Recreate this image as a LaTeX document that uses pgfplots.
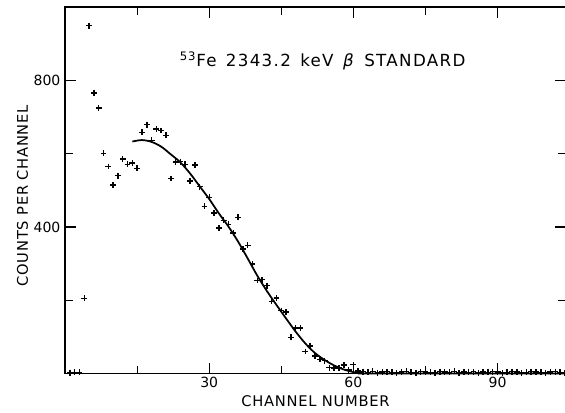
\documentclass[border=0pt]{standalone}
\usepackage{fontspec}
\setmainfont{DejaVu Sans}
\usepackage{pgfplots}
\pgfplotsset{compat=1.18}
\newfontfamily\lblfont[LetterSpace=5]{DejaVu Sans}
\newfontfamily\ttlfont[LetterSpace=8,WordSpace=1.4]{DejaVu Sans}

\pgfplotstableread{
ch counts
1 2
2 3
3 3
4 205
5 949
6 765
7 724
8 601
9 565
10 514
11 540
12 585
13 571
14 575
15 560
16 658
17 679
18 636
19 667
20 663
21 650
22 532
23 577
24 578
25 571
26 525
27 569
28 510
29 456
30 481
31 438
32 397
33 418
34 407
35 383
36 426
37 340
38 350
39 299
40 254
41 256
42 240
43 197
44 206
45 172
46 168
47 99
48 124
49 124
50 60
51 75
52 48
53 39
54 35
55 16
56 15
57 15
58 23
59 10
60 24
61 7
62 5
63 3
64 6
65 2
66 4
67 5
68 3
69 2
70 4
71 6
72 3
73 2
74 5
75 4
76 3
77 2
78 5
79 4
80 3
81 6
82 2
83 4
84 3
85 5
86 2
87 4
88 3
89 5
90 4
91 2
92 3
93 5
94 4
95 2
96 3
97 5
98 4
99 3
100 2
101 4
102 5
103 3
104 2
}\datatable

\pgfplotstableread{
ch fit
14 633
16 637
18 632
20 619
22 598
24 576
26 546
28 511
30 476
32 437
34 401
36 360
38 314
40 267
42 225
44 187
46 150
48 114
50 82
52 56
54 37
56 22
58 11
60 4
62 1
64 0
104.2 0
}\fittable

\begin{document}
\begin{tikzpicture}
\begin{axis}[
  scale only axis, width=375pt, height=274.5pt,
  xmin=0, xmax=104.2, ymin=0, ymax=1000,
  xtick={30,60,90}, minor xtick={15,45,75},
  ytick={400,800}, minor ytick={200,600},
  major tick length=8.25pt, minor tick length=6pt,
  tick style={black, line width=0.9pt},
  axis line style={line width=0.9pt},
  /pgf/number format/assume math mode=true,
  tick label style={font=\fontsize{10.5}{12}\selectfont},
  xticklabel style={anchor=center, yshift=-6.75pt},
  xlabel={CHANNEL NUMBER},
  ylabel={COUNTS PER CHANNEL},
  xlabel style={at={([yshift=-21pt]rel axis cs:0.5,0)}, anchor=center, font=\lblfont\fontsize{11}{13}\selectfont},
  ylabel style={at={([xshift=-31.9pt]rel axis cs:0,0.485)}, anchor=center, font=\lblfont\fontsize{11}{13}\selectfont},
  clip=false,
]
\addplot[only marks, mark=+, mark size=2.2pt, line width=1.1pt, black] table[x=ch, y=counts] {\datatable};
\addplot[smooth, tension=0.5, line width=1.3pt, black] table[x=ch, y=fit] {\fittable};
\node[anchor=base, font=\ttlfont\fontsize{12.5}{15}\selectfont] at (axis cs:53.6,839) {\textsuperscript{53}Fe 2343.2 keV \textit{β} STANDARD};
\end{axis}
\pgfresetboundingbox
\path[use as bounding box] ([xshift=-48.75pt,yshift=-29.25pt]current axis.south west) rectangle ([xshift=-0.6pt,yshift=5.25pt]current axis.north east);
\end{tikzpicture}
\end{document}
